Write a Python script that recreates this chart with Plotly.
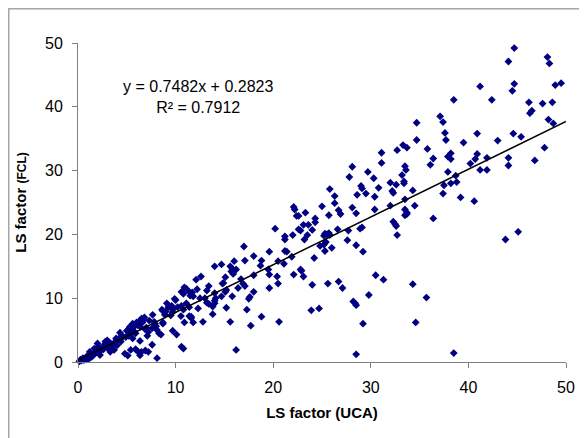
import plotly.graph_objects as go

# LS factor (UCA) vs LS factor (FCL)
uca = [
 44.7,44.1,48.1,48.3,41.2,44.7,44.5,48.9,49.5,38.5,42.4,46.2,47.6,48.6,46.5,46.3,48.2,48.7,40.9,44.6,45.4,39.5,43.0,47.8,38.2,38.2,40.9,40.7,41.9,40.2,44.1,44.1,46.8,41.2,41.9,38.7,38.2,38.8,39.2,40.6,45.1,43.8,38.5,
 22.1,22.2,22.4,22.6,23.3,25.0,26.3,26.7,26.9,25.7,28.1,28.5,30.4,32.0,34.5,33.5,36.4,
 21.2,21.2,22.0,22.6,22.8,23.1,23.6,23.5,24.0,24.3,24.3,23.2,25.3,25.5,25.7,25.8,25.2,25.4,25.2,24.8,26.0,25.3,26.6,27.7,27.6,29.1,28.9,28.5,29.2,32.3,32.5,32.6,32.7,33.5,33.7,33.7,
 21.1,21.9,21.2,21.4,24.2,22.1,22.8,22.9,23.1,24.0,25.6,26.7,27.1,30.5,31.3,34.3,29.8,28.2,28.4,28.5,24.7,23.9,35.7,29.2,34.6,28.5,
 25.8,26.3,27.8,28.1,29.0,29.1,28.6,29.5,29.7,30.3,30.8,30.4,31.1,31.1,32.0,32.2,32.3,32.6,32.7,33.3,33.7,33.5,33.6,33.2,33.4,33.4,34.3,34.7,34.7,35.8,36.4,36.1,37.1,37.4,37.6,37.7,37.9,37.9,37.5,37.4,33.5,
 20.2,17.0,19.6,14.0,14.7,16.0,17.1,18.0,18.8,18.7,15.6,15.8,16.2,15.7,15.9,20.5,19.5,19.6,18.0,20.4,12.6,12.1,15.1,16.7,16.9,17.1,14.8,14.9,13.4,12.2,11.7,11.8,13.2,13.0,12.5,13.4,13.2,14.0,14.1,14.0,14.0,13.8,14.7,15.1,15.2,15.8,16.4,18.0,19.6,20.5,15.2,13.8,12.3,11.6,17.3,17.6,17.5,18.8,11.8,12.8,15.6,17.7,20.6,16.2,
 9.9,10.0,10.6,10.8,10.9,11.1,11.4,11.5,9.6,9.7,10.2,10.6,10.8,11.1,11.4,11.4,11.6,10.9,9.5,9.7,9.0,8.9,8.6,8.7,8.7,8.7,8.5,8.3,9.7,10.1,10.6,10.8,7.8,7.9,8.0,8.1,7.6,7.0,6.9,7.2,6.7,6.6,6.8,6.0,5.6,6.1,6.4,7.1,6.35,6.9,6.5,7.2,7.6,8.1,5.0,5.2,4.3,4.6,4.9,5.2,5.4,5.8,5.9,4.8,5.1,5.4,5.9,4.1,4.4,3.9,3.7,3.5,3.35,3.2,2.9,2.7,3.1,3.7,3.3,2.0,2.1,2.3,1.9,2.2,1.8,1.57,1.4,1.16,0.89,0.61,0.34,0.14,0.96,1.26,1.67,2.25,5.9,6.25,6.5,5.6,5.3,7.65,7.3,9.1,9.25,10.55,6.1,6.35,5.6,
 0.5,0.8,0.25,1.0,2.6,2.8,4.4,4.0,3.0,1.2,
]
fcl = [
 49.2,47.1,47.8,46.8,43.2,43.6,42.5,43.4,43.7,41.1,41.1,40.7,40.5,40.7,39.4,39.0,38.0,37.4,35.8,35.8,35.3,34.4,34.7,33.6,32.7,31.8,32.6,31.8,32.0,31.1,32.0,30.8,31.6,30.1,30.1,29.2,28.0,28.2,25.8,25.2,20.4,19.2,1.4,
 24.3,23.9,22.9,22.9,23.4,24.4,24.9,23.8,23.2,23.0,24.2,23.3,23.9,24.5,24.5,23.9,22.5,
 19.7,19.2,19.9,20.8,20.6,21.5,21.5,19.9,20.7,22.5,21.9,19.2,20.1,20.0,20.2,19.9,19.8,18.8,18.4,18.2,17.9,17.4,20.8,20.6,19.1,21.1,20.9,18.3,17.3,22.0,21.6,21.3,19.9,23.0,23.4,23.2,
 15.4,16.5,17.4,17.3,16.3,13.7,14.5,14.3,13.4,12.1,12.3,12.6,11.6,13.6,12.9,12.2,10.5,9.5,9.2,8.9,8.4,8.1,10.1,6.0,6.2,1.2,
 27.1,26.0,29.0,30.6,27.6,27.2,26.2,26.4,29.8,28.8,27.3,25.9,32.8,31.2,28.1,26.8,26.5,27.8,33.2,34.0,33.6,30.7,30.1,29.3,28.3,28.0,26.9,37.5,34.8,33.4,31.9,30.9,38.5,37.6,35.9,34.8,32.2,29.8,27.7,26.4,25.5,
 20.9,18.1,17.3,15.0,15.3,15.8,15.9,16.6,15.9,15.1,15.0,14.6,14.5,14.2,13.8,15.8,14.5,13.7,13.6,13.4,13.4,12.9,13.3,13.0,12.3,11.9,12.3,12.4,11.9,11.4,10.9,10.3,11.2,10.0,10.0,9.1,9.3,10.8,10.0,9.6,9.2,8.7,10.3,11.0,11.3,10.3,11.6,11.0,11.6,12.3,8.5,7.5,8.4,7.1,8.2,10.2,9.9,7.1,6.2,6.3,6.3,5.7,6.3,1.9,
 9.9,9.7,11.0,10.7,11.7,11.5,11.0,10.4,8.8,8.2,8.6,8.8,8.2,9.2,8.6,7.2,6.9,6.2,7.3,7.8,7.9,7.4,8.2,8.0,6.2,6.0,4.3,4.5,4.9,4.3,2.4,2.1,6.3,6.0,5.6,5.0,5.3,5.4,5.1,4.7,6.6,6.2,7.0,6.2,6.0,5.8,5.5,4.1,3.3,1.8,1.6,1.6,2.7,0.6,4.9,4.6,4.6,4.0,3.9,4.1,4.4,4.7,4.5,1.3,1.0,1.9,2.0,3.4,4.0,3.7,3.0,2.6,2.9,2.8,2.4,2.7,2.1,1.9,1.6,2.9,2.4,2.1,1.8,1.6,1.4,1.1,0.8,0.58,0.42,0.31,0.2,0.1,0.94,1.25,2.1,1.1,5.8,6.3,6.8,5.2,5.5,7.4,6.5,9.2,8.6,7.2,1.7,1.05,3.7,
 0.6,0.7,0.35,0.5,2.0,3.2,3.2,2.6,3.4,1.6,
]

# Trendline as given in the chart
slope = 0.7482
intercept = 0.2823
r_squared = 0.7912
trend_x = [0, 50]
trend_y = [intercept + slope * v for v in trend_x]

tick_vals = [0, 10, 20, 30, 40, 50]

fig = go.Figure()
fig.add_trace(go.Scatter(
    x=uca, y=fcl, mode="markers",
    marker=dict(symbol="diamond", size=6, color="#000080"),
    cliponaxis=False, showlegend=False, hoverinfo="skip"))
fig.add_trace(go.Scatter(
    x=trend_x, y=trend_y, mode="lines",
    line=dict(color="black", width=1.5), showlegend=False, hoverinfo="skip"))

axis_common = dict(
    range=[0, 50], tickvals=tick_vals, showgrid=False, zeroline=False,
    showline=True, linecolor="#808080", linewidth=1,
    ticks="outside", ticklen=5, tickcolor="#808080", tickwidth=1,
    tickfont=dict(family="Arial, Liberation Sans", size=16, color="black"),
    ticklabelstandoff=6, automargin=False,
)

fig.update_layout(
    width=587, height=438,
    margin=dict(l=70, r=29, t=35, b=84),
    paper_bgcolor="white", plot_bgcolor="white",
    font=dict(family="Arial, Liberation Sans", color="black"),
    xaxis=dict(**axis_common,
               title=dict(text="<b>LS factor (UCA)</b>", standoff=12,
                          font=dict(size=15, family="Arial, Liberation Sans"))),
    yaxis=dict(**axis_common,
               title=dict(text="<b>LS factor <span style='font-size:12px'>(FCL)</span></b>", standoff=14,
                          font=dict(size=15, family="Arial, Liberation Sans"))),
    annotations=[
        dict(x=0.245, y=0.831, xref="paper", yref="paper", showarrow=False,
             text=f"y = {slope}x + {intercept}<br>R² = {r_squared}",
             font=dict(size=16, family="Arial, Liberation Sans", color="black"),
             align="center", xanchor="center", yanchor="middle"),
    ],
    shapes=[
        dict(type="line", xref="paper", yref="paper", x0=-0.1434, x1=1.2, y0=1.1097, y1=1.1097,
             line=dict(color="#a6a6a6", width=3)),
        dict(type="line", xref="paper", yref="paper", x0=-0.1434, x1=-0.1434, y0=1.1097, y1=-0.4,
             line=dict(color="#a6a6a6", width=3)),
    ],
)

fig.write_html("out.html")
